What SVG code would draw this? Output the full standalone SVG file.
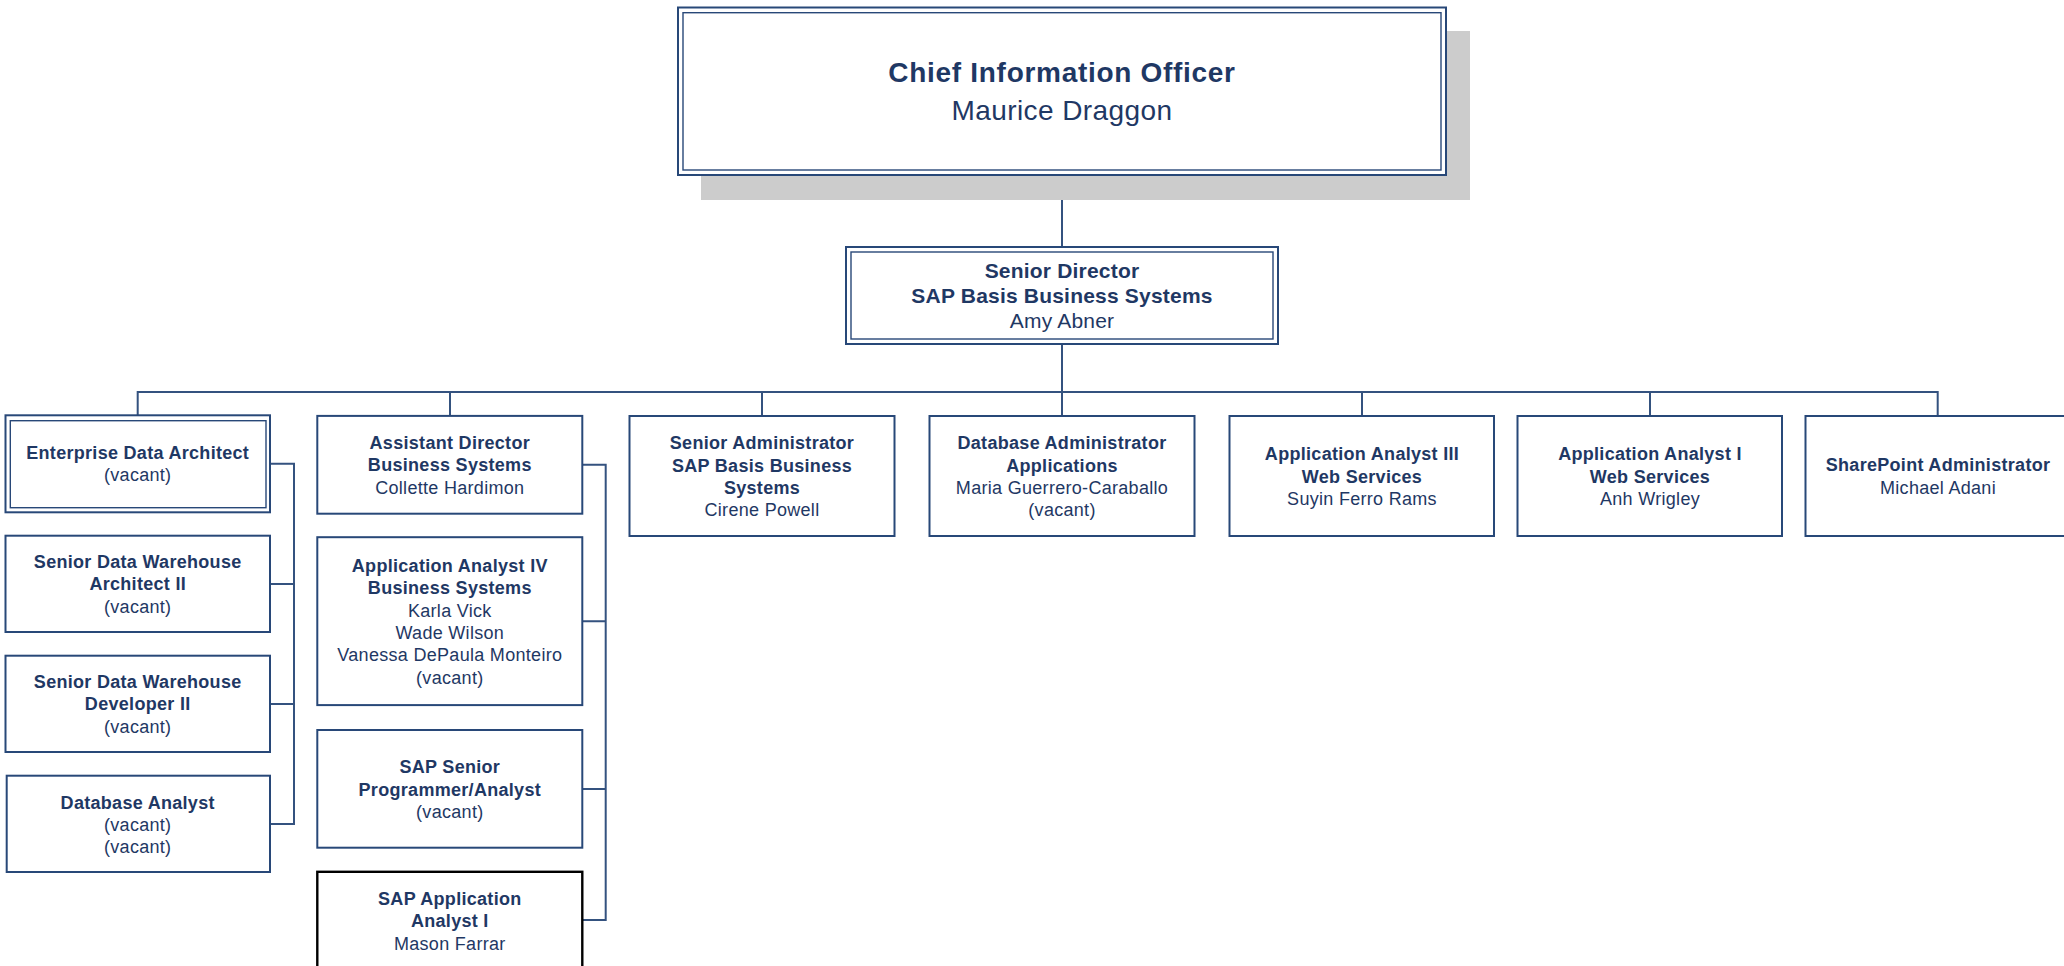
<svg xmlns="http://www.w3.org/2000/svg" width="2064" height="966" viewBox="0 0 2064 966">
<style>
.bg{fill:#ffffff}
.box{fill:#ffffff;stroke:#284878;stroke-width:2}
.inner{fill:none;stroke:#284878;stroke-width:1.4}
.blk{fill:#ffffff;stroke:#000000;stroke-width:2.4}
.shadow{fill:#cccccc}
.con{fill:none;stroke:#34527f;stroke-width:2}
text{font-family:"Liberation Sans",Arial,sans-serif;fill:#1f3864;text-anchor:middle}
.t{font-size:18px;letter-spacing:0.3px}
.b{font-weight:bold}
.sd{font-size:21px;letter-spacing:0.2px}
.cio{font-size:28px;letter-spacing:0.4px}
.ciot{font-size:28px;letter-spacing:0.7px}
</style>
<rect class="bg" x="0" y="0" width="2064" height="966"/>
<g id="connectors">
<path class="con" d="M1062 175V247M1062 344V416M137.7 416V392H1937.7V416M450 392V416M762 392V416M1362 392V416M1650 392V416"/>
<path class="con" d="M270 463.8H294V823.9H270M270 583.9H294M270 703.9H294"/>
<path class="con" d="M582.3 464.8H605.7V920H582.3M582.3 621.2H605.7M582.3 788.9H605.7"/>
</g>
<g id="cio">
<rect class="shadow" x="701" y="31" width="769" height="169"/>
<rect class="box" x="678" y="7.5" width="768" height="167.5"/>
<rect class="inner" x="683" y="12.7" width="758" height="157.3"/>
<text class="ciot b" x="1062" y="82">Chief Information Officer</text>
<text class="cio" x="1062" y="120">Maurice Draggon</text>
</g>
<g id="senior-director">
<rect class="box" x="846" y="247" width="432" height="97"/>
<rect class="inner" x="851" y="252" width="422" height="87"/>
<text class="sd b" x="1062" y="278">Senior Director</text>
<text class="sd b" x="1062" y="303">SAP Basis Business Systems</text>
<text class="sd" x="1062" y="328">Amy Abner</text>
</g>
<g id="enterprise-data-architect">
<rect class="box" x="5.5" y="415.3" width="264.5" height="97"/>
<rect class="inner" x="10.3" y="420.7" width="255.7" height="87"/>
<text class="t b" x="137.7" y="459">Enterprise Data Architect</text>
<text class="t" x="137.7" y="481.3">(vacant)</text>
</g>
<g id="sdw-architect">
<rect class="box" x="5.5" y="535.7" width="264.5" height="96.3"/>
<text class="t b" x="137.7" y="568">Senior Data Warehouse</text>
<text class="t b" x="137.7" y="590.3">Architect II</text>
<text class="t" x="137.7" y="612.6">(vacant)</text>
</g>
<g id="sdw-developer">
<rect class="box" x="5.5" y="655.7" width="264.5" height="96.3"/>
<text class="t b" x="137.7" y="688">Senior Data Warehouse</text>
<text class="t b" x="137.7" y="710.3">Developer II</text>
<text class="t" x="137.7" y="732.6">(vacant)</text>
</g>
<g id="database-analyst">
<rect class="box" x="6.7" y="775.7" width="263.3" height="96.3"/>
<text class="t b" x="137.7" y="808.5">Database Analyst</text>
<text class="t" x="137.7" y="830.8">(vacant)</text>
<text class="t" x="137.7" y="853.1">(vacant)</text>
</g>
<g id="assistant-director">
<rect class="box" x="317.3" y="415.9" width="265" height="97.8"/>
<text class="t b" x="449.8" y="449">Assistant Director</text>
<text class="t b" x="449.8" y="471.3">Business Systems</text>
<text class="t" x="449.8" y="493.6">Collette Hardimon</text>
</g>
<g id="application-analyst-iv">
<rect class="box" x="317.3" y="537.2" width="265" height="167.9"/>
<text class="t b" x="449.8" y="572">Application Analyst IV</text>
<text class="t b" x="449.8" y="594.3">Business Systems</text>
<text class="t" x="449.8" y="616.6">Karla Vick</text>
<text class="t" x="449.8" y="638.9">Wade Wilson</text>
<text class="t" x="449.8" y="661.2">Vanessa DePaula Monteiro</text>
<text class="t" x="449.8" y="683.5">(vacant)</text>
</g>
<g id="sap-senior-programmer">
<rect class="box" x="317.3" y="730" width="265" height="117.7"/>
<text class="t b" x="449.8" y="773.2">SAP Senior</text>
<text class="t b" x="449.8" y="795.5">Programmer/Analyst</text>
<text class="t" x="449.8" y="817.8">(vacant)</text>
</g>
<g id="sap-application-analyst">
<rect class="blk" x="317.3" y="871.8" width="265" height="96.5"/>
<text class="t b" x="449.8" y="905">SAP Application</text>
<text class="t b" x="449.8" y="927.3">Analyst I</text>
<text class="t" x="449.8" y="949.6">Mason Farrar</text>
</g>
<g id="senior-administrator">
<rect class="box" x="629.5" y="416" width="265" height="120"/>
<text class="t b" x="762" y="449.2">Senior Administrator</text>
<text class="t b" x="762" y="471.5">SAP Basis Business</text>
<text class="t b" x="762" y="493.8">Systems</text>
<text class="t" x="762" y="516.1">Cirene Powell</text>
</g>
<g id="database-administrator">
<rect class="box" x="929.5" y="416" width="265" height="120"/>
<text class="t b" x="1062" y="449.2">Database Administrator</text>
<text class="t b" x="1062" y="471.5">Applications</text>
<text class="t" x="1062" y="493.8">Maria Guerrero-Caraballo</text>
<text class="t" x="1062" y="516.1">(vacant)</text>
</g>
<g id="application-analyst-iii">
<rect class="box" x="1229.5" y="416" width="264.5" height="120"/>
<text class="t b" x="1362" y="460.2">Application Analyst III</text>
<text class="t b" x="1362" y="482.5">Web Services</text>
<text class="t" x="1362" y="504.8">Suyin Ferro Rams</text>
</g>
<g id="application-analyst-i">
<rect class="box" x="1517.5" y="416" width="264.5" height="120"/>
<text class="t b" x="1650" y="460.2">Application Analyst I</text>
<text class="t b" x="1650" y="482.5">Web Services</text>
<text class="t" x="1650" y="504.8">Anh Wrigley</text>
</g>
<g id="sharepoint-administrator">
<rect class="box" x="1805.5" y="416" width="264.5" height="120"/>
<text class="t b" x="1938" y="471.3">SharePoint Administrator</text>
<text class="t" x="1938" y="493.6">Michael Adani</text>
</g>
</svg>
